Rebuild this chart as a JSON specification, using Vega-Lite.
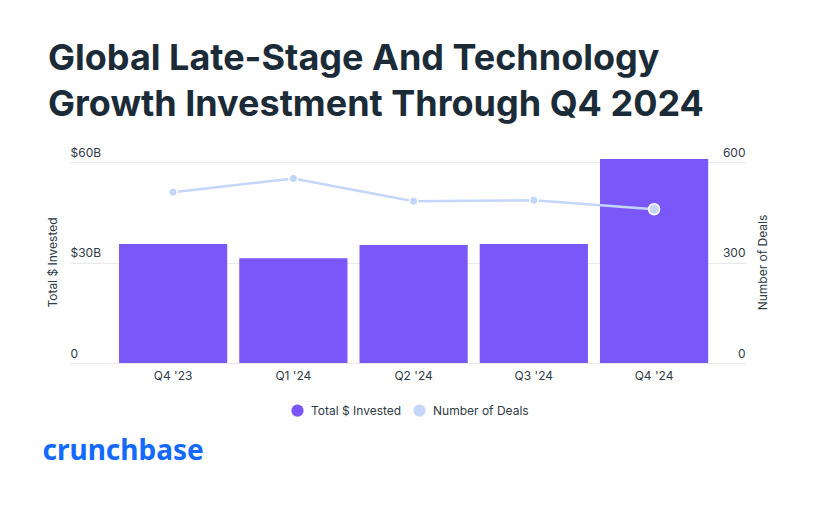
{
  "$schema": "https://vega.github.io/schema/vega-lite/v6.json",
  "width": 675,
  "height": 201,
  "autosize": {"type": "none"},
  "padding": {"left": 70, "top": 162, "right": 68, "bottom": 142},
  "background": "white",
  "config": {"view": {"stroke": null}, "font": "Inter"},
  "title": {
    "text": ["Global Late-Stage And Technology", "Growth Investment Through Q4 2024"],
    "anchor": "start",
    "frame": "group",
    "dx": -22,
    "font": "Inter",
    "fontSize": 36,
    "fontWeight": "bold",
    "color": "#1b2b38",
    "lineHeight": 46,
    "baseline": "alphabetic",
    "offset": -6
  },
  "data": {
    "values": [
      {"quarter": "Q4 '23", "invested": 35.5, "deals": 510},
      {"quarter": "Q1 '24", "invested": 31.3, "deals": 551},
      {"quarter": "Q2 '24", "invested": 35.2, "deals": 483},
      {"quarter": "Q3 '24", "invested": 35.5, "deals": 486},
      {"quarter": "Q4 '24", "invested": 60.9, "deals": 459}
    ]
  },
  "encoding": {
    "x": {
      "field": "quarter",
      "type": "nominal",
      "sort": null,
      "scale": {"paddingInner": 0.1, "paddingOuter": 0.357, "align": 0.571},
      "axis": {
        "title": "crunchbase",
        "titleX": -28,
        "titleY": 96,
        "titleAlign": "left",
        "titleAnchor": "start",
        "titleBaseline": "alphabetic",
        "titleFont": "Noto Sans",
        "titleFontSize": 28,
        "titleFontWeight": "bold",
        "titleColor": "#146aff",
        "labelAngle": 0,
        "labelFontSize": 12,
        "labelColor": "#2f3b45",
        "labelPadding": 7,
        "ticks": false,
        "tickSize": 0,
        "domain": false,
        "grid": false
      }
    }
  },
  "layer": [
    {
      "mark": {"type": "bar", "color": "#7a57f8"},
      "encoding": {
        "y": {
          "field": "invested",
          "type": "quantitative",
          "scale": {"domain": [0, 60], "nice": false},
          "axis": {
            "title": "Total $ Invested",
            "titleX": -18,
            "titleY": 100,
            "titleAngle": 270,
            "titleAlign": "center",
            "titleBaseline": "middle",
            "titleFontSize": 12,
            "titleFontWeight": "normal",
            "titleColor": "#2f3b45",
            "values": [0, 30, 60],
            "labelExpr": "datum.value == 0 ? '0' : '$' + datum.value + 'B'",
            "labelAlign": "left",
            "labelBaseline": "bottom",
            "labelOffset": -3,
            "labelPadding": 0,
            "labelFontSize": 12,
            "labelColor": "#2f3b45",
            "ticks": false,
            "tickSize": 0,
            "domain": false,
            "grid": true,
            "gridColor": "#e9e9ec",
            "gridWidth": 1
          }
        },
        "color": {
          "datum": "Total $ Invested",
          "scale": {"domain": ["Total $ Invested", "Number of Deals"], "range": ["#7a57f8", "#c4d7fb"]},
          "legend": {
            "title": null,
            "orient": "none",
            "direction": "horizontal",
            "legendX": 221,
            "legendY": 242,
            "symbolType": "circle",
            "symbolSize": 150,
            "symbolStrokeWidth": 0,
            "labelFontSize": 12,
            "labelColor": "#2f3b45",
            "labelOffset": 7,
            "columnPadding": 11
          }
        }
      }
    },
    {
      "encoding": {
        "y": {
          "field": "deals",
          "type": "quantitative",
          "scale": {"domain": [0, 600], "nice": false},
          "axis": {
            "orient": "right",
            "title": "Number of Deals",
            "titleX": 17,
            "titleY": 100,
            "titleAngle": 270,
            "titleAlign": "center",
            "titleBaseline": "middle",
            "titleFontSize": 12,
            "titleFontWeight": "normal",
            "titleColor": "#2f3b45",
            "values": [0, 300, 600],
            "labelAlign": "right",
            "labelBaseline": "bottom",
            "labelOffset": -3,
            "labelPadding": 0,
            "labelFontSize": 12,
            "labelColor": "#2f3b45",
            "ticks": false,
            "tickSize": 0,
            "domain": false,
            "grid": false
          }
        },
        "color": {"datum": "Number of Deals"}
      },
      "layer": [
        {"mark": {"type": "line", "strokeWidth": 2.5, "color": "#c4d7fb"}},
        {
          "mark": {"type": "point", "filled": true, "opacity": 1, "stroke": "white", "strokeWidth": 1.5, "color": "#c4d7fb"},
          "encoding": {
            "size": {"condition": {"test": "datum.quarter == \"Q4 '24\"", "value": 120}, "value": 70},
            "stroke": {"value": "white"}
          }
        }
      ]
    }
  ],
  "resolve": {"scale": {"y": "independent"}}
}
